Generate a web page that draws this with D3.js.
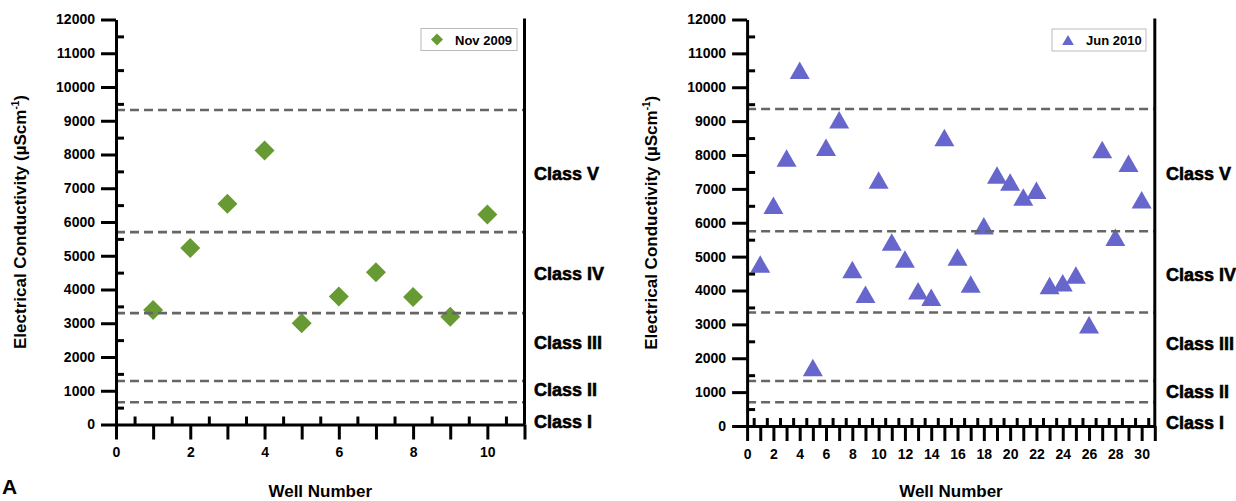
<!DOCTYPE html>
<html>
<head>
<meta charset="utf-8">
<script src="https://cdn.jsdelivr.net/npm/d3@7"></script>
<style>
  html, body { margin: 0; padding: 0; background: #fff; }
  svg { display: block; font-family: "Liberation Sans", Arial, sans-serif; }
</style>
</head>
<body>
<script>
// Well numbers and electrical conductivity (µS/cm) per sampling campaign
const wellsNov2009 = [1, 2, 3, 4, 5, 6, 7, 8, 9, 10];
const ecNov2009 = [3390, 5230, 6540, 8120, 3000, 3790, 4510, 3780, 3190, 6220];

const wellsJun2010 = [1, 2, 3, 4, 5, 6, 7, 8, 9, 10, 11, 12, 13, 14, 15,
                      16, 17, 18, 19, 20, 21, 22, 23, 24, 25, 26, 27, 28, 29, 30];
const ecJun2010 = [4780, 6520, 7910, 10500, 1730, 8230, 9040, 4620, 3890, 7260,
                   5430, 4930, 3990, 3800, 8520, 4990, 4190, 5910, 7410, 7200,
                   6760, 6960, 4150, 4230, 4460, 2990, 8160, 5570, 7760, 6680];

// Salinity class boundaries drawn as dashed lines
const classNames = ["Class I", "Class II", "Class III", "Class IV", "Class V"];
const classBoundsNov2009 = [660, 1290, 3300, 5700, 9320];
const classBoundsJun2010 = [700, 1330, 3350, 5750, 9360];

// Y-axis tick values
const yMajorTicks = [0, 1000, 2000, 3000, 4000, 5000, 6000, 7000, 8000, 9000, 10000, 11000, 12000];

// Where the class names sit along the y scale (layout)
const classLabelAt = [100, 1030, 2430, 4470, 7450];

const W = 1236, H = 501;
const svg = d3.select("body").append("svg").attr("width", W).attr("height", H);

// Custom marker shapes
const diamondType = {
  draw(ctx, size) {
    const r = Math.sqrt(size / 2);
    ctx.moveTo(0, -r); ctx.lineTo(r, 0); ctx.lineTo(0, r); ctx.lineTo(-r, 0); ctx.closePath();
  }
};
const triangleType = {
  draw(ctx, size) {
    const w = Math.sqrt(size / 0.4375), h = 0.875 * w;
    ctx.moveTo(0, -h / 2); ctx.lineTo(w / 2, h / 2); ctx.lineTo(-w / 2, h / 2); ctx.closePath();
  }
};

function drawPanel(o) {
  const g = svg.append("g");
  const x = d3.scaleLinear().domain([0, o.xMax]).range(o.xRange);
  const y = d3.scaleLinear().domain([0, 12000]).range(o.yRange);
  const x0 = o.xRange[0], x1 = o.xRange[1], yb = o.yRange[0], yt = o.yRange[1];

  // markers
  const sym = d3.symbol().type(o.shape).size(o.size);
  g.append("g").selectAll("path")
    .data(o.wells.map((w, i) => ({ w, v: o.values[i] })))
    .join("path")
    .attr("transform", d => `translate(${x(d.w)},${y(d.v)})`)
    .attr("d", sym)
    .attr("fill", o.color);

  // class boundaries
  g.append("g").selectAll("line")
    .data(o.bounds)
    .join("line")
    .attr("x1", x0).attr("x2", x1)
    .attr("y1", d => y(d)).attr("y2", d => y(d))
    .attr("stroke", "#666").attr("stroke-width", 2.6)
    .attr("stroke-dasharray", "9,5");

  // minor ticks (inward)
  const yMinor = d3.range(500, 12000, 1000);
  const xMinor = d3.range(0.5, o.xMax, 1);
  g.append("g").attr("transform", `translate(${x0},0)`)
    .call(d3.axisLeft(y).tickValues(yMinor).tickSize(-8).tickFormat(""))
    .call(a => a.select(".domain").remove());
  g.append("g").attr("transform", `translate(0,${yb})`)
    .call(d3.axisBottom(x).tickValues(xMinor).tickSize(-8).tickFormat(""))
    .call(a => a.select(".domain").remove());

  // major axes
  const ya = g.append("g").attr("transform", `translate(${x0},0)`)
    .call(d3.axisLeft(y).tickValues(yMajorTicks).tickSize(15).tickSizeOuter(0).tickPadding(6)
      .tickFormat(d3.format("d")));
  const xa = g.append("g").attr("transform", `translate(0,${yb})`)
    .call(d3.axisBottom(x).tickValues(d3.range(0, o.xMax + 1, 1)).tickSize(15).tickSizeOuter(0).tickPadding(8)
      .tickFormat(d => d % 2 === 0 ? d : ""));
  [ya, xa].forEach(a => {
    a.selectAll("line, path").attr("stroke", "#000").attr("stroke-width", 3);
    a.selectAll("text").attr("fill", "#000").attr("font-size", 14).attr("font-weight", "bold")
      .attr("font-family", "Liberation Sans, Arial, sans-serif");
  });
  g.selectAll("g.tick line").attr("stroke", "#000").attr("stroke-width", 3);

  // right frame line
  g.append("line").attr("x1", x1).attr("x2", x1).attr("y1", yt - 1).attr("y2", yb)
    .attr("stroke", "#000").attr("stroke-width", 3);

  // class names
  g.append("g").selectAll("text")
    .data(classNames)
    .join("text")
    .attr("x", o.classX)
    .attr("y", (d, i) => y(classLabelAt[i]))
    .attr("dy", "0.36em")
    .attr("font-size", 18).attr("font-weight", "bold")
    .attr("fill", "#000").attr("stroke", "#000").attr("stroke-width", 0.6)
    .text(d => d);

  // axis titles
  g.append("text")
    .attr("x", (x0 + x1) / 2).attr("y", 497)
    .attr("text-anchor", "middle").attr("font-size", 17).attr("font-weight", "bold")
    .text("Well Number");
  const yt2 = g.append("text")
    .attr("transform", `translate(${o.yTitleX},${(yb + yt) / 2}) rotate(-90)`)
    .attr("text-anchor", "middle").attr("font-size", 17).attr("font-weight", "bold");
  yt2.append("tspan").text("Electrical Conductivity (µScm");
  yt2.append("tspan").attr("font-size", 10).attr("dy", -7).text("-1");
  yt2.append("tspan").attr("dy", 7).text(")");

  // legend
  const lb = o.legendBox;
  const lg = g.append("g");
  lg.append("rect").attr("x", lb[0]).attr("y", lb[1]).attr("width", lb[2]).attr("height", lb[3])
    .attr("fill", "#fff").attr("stroke", "#bbb").attr("stroke-width", 1);
  lg.append("path")
    .attr("transform", `translate(${lb[0] + 16},${lb[1] + lb[3] / 2})`)
    .attr("d", d3.symbol().type(o.shape).size(o.legendSize))
    .attr("fill", o.color);
  lg.append("text").attr("x", lb[0] + 34).attr("y", lb[1] + lb[3] / 2 + 5)
    .attr("font-size", 13).attr("font-weight", "bold").text(o.legendText);
}

drawPanel({
  wells: wellsNov2009, values: ecNov2009, bounds: classBoundsNov2009,
  xMax: 11, xRange: [116, 524.5], yRange: [424.5, 19.5],
  shape: diamondType, size: 200, legendSize: 72, color: "#679a33",
  legendText: "Nov 2009", legendBox: [421, 28.5, 96, 22],
  classX: 534, yTitleX: 26
});

drawPanel({
  wells: wellsJun2010, values: ecJun2010, bounds: classBoundsJun2010,
  xMax: 31, xRange: [747.1, 1154.8], yRange: [426, 19.5],
  shape: triangleType, size: 175, legendSize: 60, color: "#6666cc",
  legendText: "Jun 2010", legendBox: [1052, 29, 94, 22],
  classX: 1166, yTitleX: 657
});

// panel letter
svg.append("text").attr("x", 2).attr("y", 494)
  .attr("font-size", 21).attr("font-weight", "bold").text("A");
</script>
</body>
</html>
